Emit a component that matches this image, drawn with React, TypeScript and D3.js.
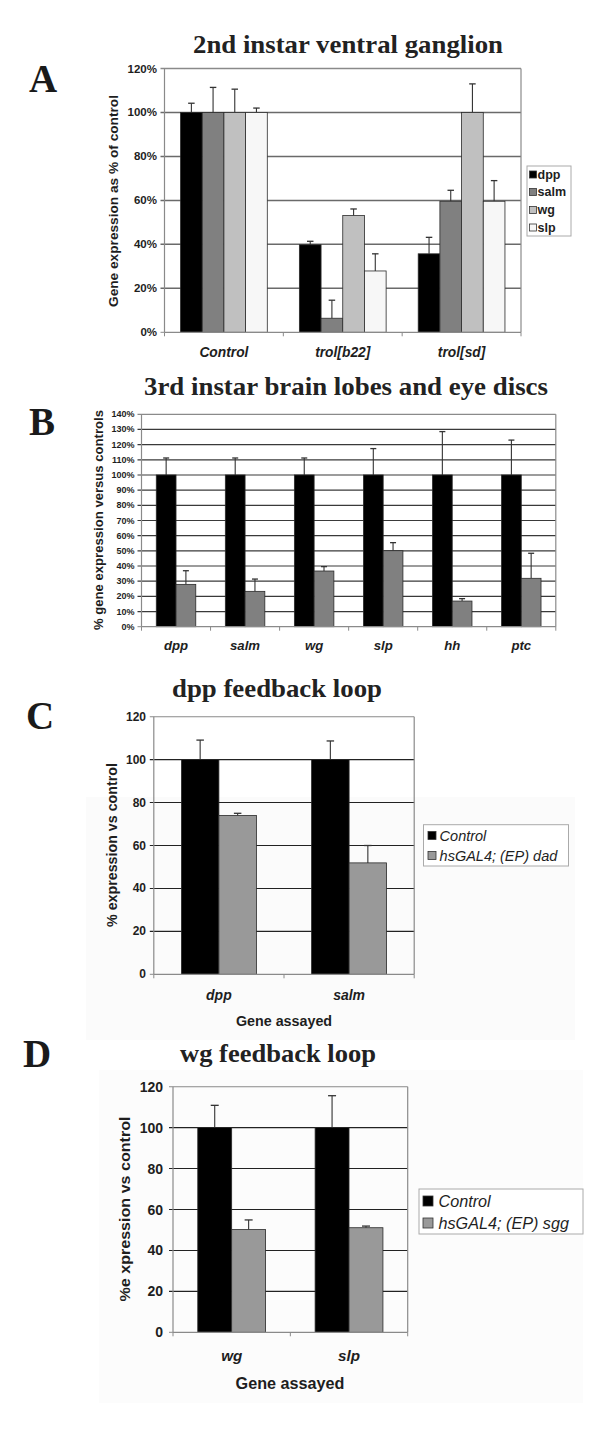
import React from "react";
import * as d3 from "d3";

// ---------- Panel A data ----------
const aCategories = ["Control", "trol[b22]", "trol[sd]"];
const aSeriesNames = ["dpp", "salm", "wg", "slp"];
const aDpp = [100, 39.8, 35.7];
const aDppErr = [4.2, 1.6, 7.5];
const aSalm = [100, 6.4, 59.6];
const aSalmErr = [11.4, 8.2, 5.0];
const aWg = [100, 53.1, 100];
const aWgErr = [10.6, 3.0, 13.0];
const aSlp = [100, 27.9, 59.6];
const aSlpErr = [2.0, 7.8, 9.4];
const aTicks = [0, 20, 40, 60, 80, 100, 120];

// ---------- Panel B data ----------
const bCategories = ["dpp", "salm", "wg", "slp", "hh", "ptc"];
const bControl = [100, 100, 100, 100, 100, 100];
const bControlErr = [11.2, 11.2, 11.2, 17.4, 28.6, 23.0];
const bMutant = [27.9, 23.3, 36.7, 50.1, 16.9, 31.9];
const bMutantErr = [9.0, 8.1, 2.9, 5.3, 1.6, 16.5];
const bTicks = [0, 10, 20, 30, 40, 50, 60, 70, 80, 90, 100, 110, 120, 130, 140];

// ---------- Panel C data ----------
const cCategories = ["dpp", "salm"];
const cSeriesNames = ["Control", "hsGAL4; (EP) dad"];
const cControl = [100, 100];
const cControlErr = [9.1, 8.7];
const cDad = [74.0, 51.9];
const cDadErr = [1.0, 8.1];
const cTicks = [0, 20, 40, 60, 80, 100, 120];

// ---------- Panel D data ----------
const dCategories = ["wg", "slp"];
const dSeriesNames = ["Control", "hsGAL4; (EP) sgg"];
const dControl = [100, 100];
const dControlErr = [10.9, 15.6];
const dSgg = [50.2, 51.1];
const dSggErr = [4.7, 0.8];
const dTicks = [0, 20, 40, 60, 80, 100, 120];

const SANS = "'Liberation Sans', Arial, sans-serif";
const SERIF = "'Liberation Serif', 'Times New Roman', serif";
const INK = "#1e1e1e";

type Series = { name: string; values: number[]; errs: number[]; color: string };

type PanelProps = {
  left: number;
  right: number;
  top: number;
  bottom: number;
  yMax: number;
  ticks: number[];
  fmt: (v: number) => string;
  categories: string[];
  series: Series[];
  groupPad: number;
  gridColor: string;
  gridWidth: number;
  frameColor: string;
  tickLabelRight: number;
  tickFont: number;
  yTitle: string;
  yTitleX: number;
  yTitleY: number;
  yTitleFont: number;
  yTitleLen: number;
  catY: number;
  catFont: number;
  capW: number;
};

function Panel(p: PanelProps) {
  const y = d3.scaleLinear().domain([0, p.yMax]).range([p.bottom, p.top]);
  const x0 = d3.scaleBand<string>().domain(p.categories).range([p.left, p.right]).padding(0);
  const bw = x0.bandwidth();
  const x1 = d3
    .scaleBand<string>()
    .domain(p.series.map((s) => s.name))
    .range([bw * p.groupPad, bw * (1 - p.groupPad)])
    .padding(0);
  const edges = p.categories.map((c) => x0(c) as number).concat([p.right]);
  return (
    <g>
      {p.ticks.map((t) => (
        <g key={"g" + t}>
          {t > 0 && (
            <line
              x1={p.left - 4}
              x2={p.right}
              y1={y(t)}
              y2={y(t)}
              stroke={t === p.yMax ? p.frameColor : p.gridColor}
              strokeWidth={p.gridWidth}
            />
          )}
          {t === 0 && <line x1={p.left - 4} x2={p.left} y1={y(t)} y2={y(t)} stroke={p.frameColor} strokeWidth={1} />}
          <text
            x={p.tickLabelRight}
            y={y(t)}
            textAnchor="end"
            dominantBaseline="central"
            fontFamily={SANS}
            fontWeight="bold"
            fontSize={p.tickFont}
            fill={INK}
          >
            {p.fmt(t)}
          </text>
        </g>
      ))}
      <line x1={p.right} x2={p.right} y1={p.top} y2={p.bottom} stroke={p.frameColor} strokeWidth={1.2} />
      {p.categories.map((c, ci) => (
        <g key={c} transform={`translate(${x0(c)},0)`}>
          {p.series.map((s) => {
            const v = s.values[ci];
            const e = s.errs[ci];
            const bx = x1(s.name) as number;
            const w = x1.bandwidth();
            const cx = bx + w / 2;
            return (
              <g key={s.name}>
                <line x1={cx} x2={cx} y1={y(v)} y2={y(v + e)} stroke="#333" strokeWidth={1.1} />
                <line x1={cx - p.capW / 2} x2={cx + p.capW / 2} y1={y(v + e)} y2={y(v + e)} stroke="#333" strokeWidth={1.3} />
                <rect x={bx} y={y(v)} width={w} height={y(0) - y(v)} fill={s.color} stroke="#2a2a2a" strokeWidth={0.8} />
              </g>
            );
          })}
        </g>
      ))}
      <line x1={p.left} x2={p.left} y1={p.top} y2={p.bottom} stroke={p.frameColor} strokeWidth={1.2} />
      <line x1={p.left} x2={p.right} y1={p.bottom} y2={p.bottom} stroke={p.frameColor} strokeWidth={1.2} />
      {edges.map((ex, i) => (
        <line key={"t" + i} x1={ex} x2={ex} y1={p.bottom} y2={p.bottom + 4} stroke={p.frameColor} strokeWidth={1} />
      ))}
      {p.categories.map((c) => (
        <text
          key={"c" + c}
          x={(x0(c) as number) + bw / 2}
          y={p.catY}
          textAnchor="middle"
          dominantBaseline="central"
          fontFamily={SANS}
          fontWeight="bold"
          fontStyle="italic"
          fontSize={p.catFont}
          fill={INK}
        >
          {c}
        </text>
      ))}
      <text
        transform={`translate(${p.yTitleX},${p.yTitleY}) rotate(-90)`}
        textAnchor="middle"
        dominantBaseline="central"
        fontFamily={SANS}
        fontWeight="bold"
        fontSize={p.yTitleFont}
        textLength={p.yTitleLen}
        lengthAdjust="spacingAndGlyphs"
        fill={INK}
      >
        {p.yTitle}
      </text>
    </g>
  );
}

function Legend(props: {
  x: number;
  y: number;
  w: number;
  h: number;
  items: { name: string; color: string }[];
  rowY: number[];
  sw: number;
  swX: number;
  textX: number;
  font: number;
  bold: boolean;
  italic: boolean;
}) {
  return (
    <g>
      <rect x={props.x} y={props.y} width={props.w} height={props.h} fill="#fff" stroke="#aaa" strokeWidth={1} />
      {props.items.map((it, i) => (
        <g key={it.name}>
          <rect
            x={props.swX}
            y={props.rowY[i] - props.sw / 2}
            width={props.sw}
            height={props.sw}
            fill={it.color}
            stroke="#333"
            strokeWidth={0.8}
          />
          <text
            x={props.textX}
            y={props.rowY[i]}
            dominantBaseline="central"
            fontFamily={SANS}
            fontWeight={props.bold ? "bold" : "normal"}
            fontStyle={props.italic ? "italic" : "normal"}
            fontSize={props.font}
            fill={INK}
          >
            {it.name}
          </text>
        </g>
      ))}
    </g>
  );
}

function Title(props: { x: number; y: number; text: string; size: number; len: number }) {
  return (
    <text
      x={props.x}
      y={props.y}
      textAnchor="middle"
      fontFamily={SERIF}
      fontWeight="bold"
      fontSize={props.size}
      textLength={props.len}
      lengthAdjust="spacingAndGlyphs"
      fill="#222"
    >
      {props.text}
    </text>
  );
}

function Letter(props: { x: number; y: number; text: string }) {
  return (
    <text x={props.x} y={props.y} fontFamily={SERIF} fontWeight="bold" fontSize={39} fill="#1a1a1a">
      {props.text}
    </text>
  );
}

function XTitle(props: { x: number; y: number; size: number }) {
  return (
    <text
      x={props.x}
      y={props.y}
      textAnchor="middle"
      dominantBaseline="central"
      fontFamily={SANS}
      fontWeight="bold"
      fontSize={props.size}
      fill={INK}
    >
      Gene assayed
    </text>
  );
}

export default function App() {
  const aColors = ["#000000", "#808080", "#c0c0c0", "#f7f7f7"];
  const aVals = [aDpp, aSalm, aWg, aSlp];
  const aErrs = [aDppErr, aSalmErr, aWgErr, aSlpErr];
  const aSeries: Series[] = aSeriesNames.map((n, i) => ({ name: n, values: aVals[i], errs: aErrs[i], color: aColors[i] }));
  const bSeries: Series[] = [
    { name: "control", values: bControl, errs: bControlErr, color: "#000000" },
    { name: "mutant", values: bMutant, errs: bMutantErr, color: "#808080" },
  ];
  const cSeries: Series[] = [
    { name: cSeriesNames[0], values: cControl, errs: cControlErr, color: "#000000" },
    { name: cSeriesNames[1], values: cDad, errs: cDadErr, color: "#999999" },
  ];
  const dSeries: Series[] = [
    { name: dSeriesNames[0], values: dControl, errs: dControlErr, color: "#000000" },
    { name: dSeriesNames[1], values: dSgg, errs: dSggErr, color: "#999999" },
  ];
  const pct = (v: number) => `${v}%`;
  const plain = (v: number) => `${v}`;
  return (
    <svg
      width={600}
      height={1433}
      viewBox="0 0 600 1433"
      style={{ position: "absolute", left: 0, top: 0, background: "#fff" }}
    >
      <rect x={0} y={0} width={600} height={1433} fill="#fff" />
      <rect x={86} y={797} width={489} height={243} fill="#fbfbfb" />
      <rect x={99} y={1070} width={484} height={333} fill="#fcfcfc" />

      {/* ---------- A ---------- */}
      <Letter x={29} y={92} text="A" />
      <Title x={348} y={53} text="2nd instar ventral ganglion" size={25.5} len={310} />
      <Panel
        left={164.5}
        right={521}
        top={68.5}
        bottom={332.3}
        yMax={120}
        ticks={aTicks}
        fmt={pct}
        categories={aCategories}
        series={aSeries}
        groupPad={0.135}
        gridColor="#6a6a6a"
        gridWidth={1.5}
        frameColor="#8a8a8a"
        tickLabelRight={157}
        tickFont={11.5}
        yTitle="Gene expression as % of control"
        yTitleX={113}
        yTitleY={201}
        yTitleFont={13.5}
        yTitleLen={212}
        catY={352}
        catFont={13.8}
        capW={6.5}
      />
      <Legend
        x={527}
        y={166}
        w={44}
        h={70}
        items={aSeries.map((s) => ({ name: s.name, color: s.color }))}
        rowY={[174.5, 192, 210, 227.5]}
        sw={7}
        swX={529.5}
        textX={537.5}
        font={12.5}
        bold={true}
        italic={false}
      />

      {/* ---------- B ---------- */}
      <Letter x={29} y={435} text="B" />
      <Title x={346} y={395} text="3rd instar brain lobes and eye discs" size={25} len={404} />
      <Panel
        left={141.5}
        right={555.8}
        top={414.3}
        bottom={626.7}
        yMax={140}
        ticks={bTicks}
        fmt={pct}
        categories={bCategories}
        series={bSeries}
        groupPad={0.214}
        gridColor="#3a3a3a"
        gridWidth={1.2}
        frameColor="#8a8a8a"
        tickLabelRight={134.6}
        tickFont={9}
        yTitle="% gene expression versus controls"
        yTitleX={99}
        yTitleY={520}
        yTitleFont={12.5}
        yTitleLen={220}
        catY={645.7}
        catFont={13.2}
        capW={6}
      />

      {/* ---------- C ---------- */}
      <Letter x={26} y={729} text="C" />
      <Title x={277} y={697} text="dpp feedback loop" size={25.5} len={210} />
      <Panel
        left={153.8}
        right={414.2}
        top={716.7}
        bottom={974.3}
        yMax={120}
        ticks={cTicks}
        fmt={plain}
        categories={cCategories}
        series={cSeries}
        groupPad={0.212}
        gridColor="#222222"
        gridWidth={1.1}
        frameColor="#8a8a8a"
        tickLabelRight={146}
        tickFont={12}
        yTitle="% expression vs control"
        yTitleX={111.5}
        yTitleY={845}
        yTitleFont={14}
        yTitleLen={164}
        catY={995}
        catFont={14}
        capW={7.5}
      />
      <XTitle x={284} y={1020.7} size={14.3} />
      <Legend
        x={423.5}
        y={824.7}
        w={145}
        h={41.3}
        items={cSeries.map((s) => ({ name: s.name, color: s.color }))}
        rowY={[835.5, 855.5]}
        sw={8}
        swX={428}
        textX={439.6}
        font={14.5}
        bold={false}
        italic={true}
      />

      {/* ---------- D ---------- */}
      <Letter x={23} y={1067} text="D" />
      <Title x={278} y={1062} text="wg feedback loop" size={25.5} len={196} />
      <Panel
        left={173}
        right={407.7}
        top={1086.7}
        bottom={1332.3}
        yMax={120}
        ticks={dTicks}
        fmt={plain}
        categories={dCategories}
        series={dSeries}
        groupPad={0.211}
        gridColor="#222222"
        gridWidth={1.1}
        frameColor="#8a8a8a"
        tickLabelRight={163}
        tickFont={14}
        yTitle="%e xpression vs control"
        yTitleX={124}
        yTitleY={1209}
        yTitleFont={15.5}
        yTitleLen={185}
        catY={1355}
        catFont={15.2}
        capW={8}
      />
      <XTitle x={290} y={1383} size={16.2} />
      <Legend
        x={419}
        y={1189}
        w={164}
        h={45}
        items={dSeries.map((s) => ({ name: s.name, color: s.color }))}
        rowY={[1201, 1223]}
        sw={10}
        swX={423}
        textX={438.5}
        font={16.2}
        bold={false}
        italic={true}
      />
    </svg>
  );
}
